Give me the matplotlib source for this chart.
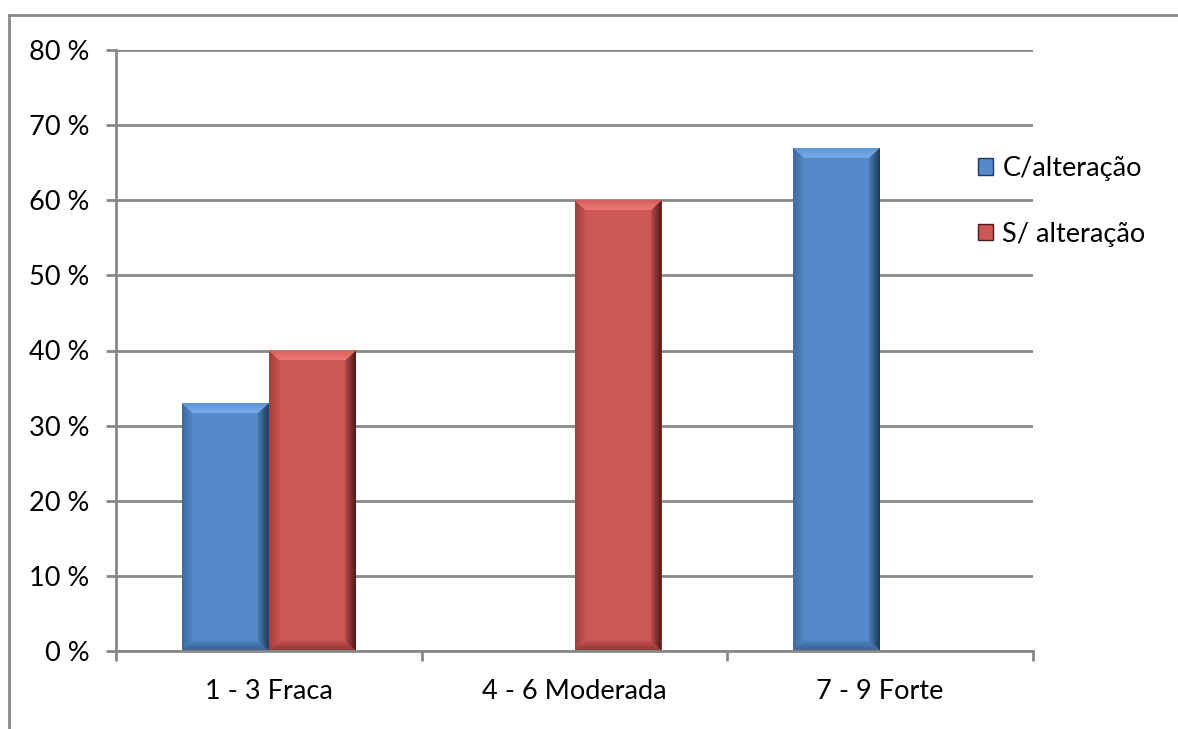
import matplotlib
matplotlib.use("Agg")
import matplotlib.pyplot as plt
from matplotlib.patches import Polygon, Patch
from matplotlib.lines import Line2D
from matplotlib.colors import to_rgb
import numpy as np

categories = ["1 - 3 Fraca", "4 - 6 Moderada", "7 - 9 Forte"]
series_names = ["C/alteração", "S/ alteração"]
c_alteracao = [33, 0, 67]
s_alteracao = [40, 60, 0]
y_ticks = [0, 10, 20, 30, 40, 50, 60, 70, 80]
y_tick_labels = [f"{v} %" for v in y_ticks]

W, H = 1178, 729
DPI = 100
FONT = ["Lato", "DejaVu Sans"]
FS = 19.5
GRID = "#898989"

blue = "#5589CA"
red = "#CD5754"
shades = {
    blue: dict(top_in="#78AEEC", top_out="#5F94D4", left_out="#3F6BA3", left_in="#5286C5",
               right_out="#1F3857", right_in="#4A7AB6", bot_out="#3A5F8E", bot_in="#4D80BF"),
    red: dict(top_in="#F07874", top_out="#D4615D", left_out="#9E403D", left_in="#C95350",
              right_out="#4A1A19", right_in="#B84C49", bot_out="#8A3836", bot_in="#C0514E"),
}

fig = plt.figure(figsize=(W / DPI, H / DPI), dpi=DPI)
fig.patch.set_facecolor("white")

# outer chart border (left and top visible)
fig.add_artist(Line2D([9 / W, 9 / W], [0, 1 - 15 / H], transform=fig.transFigure,
                      color=GRID, lw=2))
fig.add_artist(Line2D([9 / W, 1], [1 - 15 / H, 1 - 15 / H], transform=fig.transFigure,
                      color=GRID, lw=2))

left, right, top, bottom = 116, 1033, 50, 651
ax = fig.add_axes([left / W, 1 - bottom / H, (right - left) / W, (bottom - top) / H])

x = np.arange(len(categories))
bw = 0.285
b1 = ax.bar(x - bw / 2, c_alteracao, bw, color=blue, zorder=3, linewidth=0, label=series_names[0])
b2 = ax.bar(x + bw / 2, s_alteracao, bw, color=red, zorder=3, linewidth=0, label=series_names[1])


def grad_poly(pts, c_a, c_b, horizontal):
    poly = Polygon(pts, closed=True, facecolor="none", edgecolor="none")
    ax.add_patch(poly)
    xs = [p[0] for p in pts]; ys = [p[1] for p in pts]
    a = np.array(to_rgb(c_a)); b = np.array(to_rgb(c_b))
    t = np.linspace(0, 1, 32)
    cols = a[None, :] * (1 - t[:, None]) + b[None, :] * t[:, None]
    img = cols[None, :, :] if horizontal else cols[:, None, :]
    im = ax.imshow(img, extent=(min(xs), max(xs), min(ys), max(ys)), origin="lower",
                   aspect="auto", interpolation="bilinear", zorder=4)
    im.set_clip_path(poly)


# bevel effect, sizes in pixels converted to data units
px_x = 3.0 / (right - left)
px_y = 80.0 / (bottom - top)
bev_x = 11 * px_x
bev_y = 10 * px_y
for bars, col in ((b1, blue), (b2, red)):
    sh = shades[col]
    for r in bars:
        h = r.get_height()
        if h <= 0:
            continue
        x0 = r.get_x(); x1 = x0 + r.get_width(); y0 = 0; y1 = h
        grad_poly([(x0, y0), (x0, y1), (x0 + bev_x, y1 - bev_y), (x0 + bev_x, y0 + bev_y)],
                  sh["left_out"], sh["left_in"], horizontal=True)
        grad_poly([(x1, y0), (x1, y1), (x1 - bev_x, y1 - bev_y), (x1 - bev_x, y0 + bev_y)],
                  sh["right_in"], sh["right_out"], horizontal=True)
        grad_poly([(x0, y0), (x1, y0), (x1 - bev_x, y0 + bev_y), (x0 + bev_x, y0 + bev_y)],
                  sh["bot_out"], sh["bot_in"], horizontal=False)
        grad_poly([(x0, y1), (x1, y1), (x1 - bev_x, y1 - bev_y), (x0 + bev_x, y1 - bev_y)],
                  sh["top_in"], sh["top_out"], horizontal=False)

ax.set_xlim(-0.5, 2.5)
ax.set_ylim(0, 80)

# grid
ax.set_yticks(y_ticks)
ax.set_yticklabels(y_tick_labels, fontfamily=FONT, fontsize=FS)
ax.yaxis.grid(True, color=GRID, lw=2, zorder=1)
ax.set_axisbelow(True)

ax.set_xticks(x)
ax.set_xticklabels(categories, fontfamily=FONT, fontsize=FS)
ax.set_xticks([-0.5, 0.5, 1.5, 2.5], minor=True)
ax.tick_params(axis="x", which="major", length=0, pad=20)
ax.tick_params(axis="x", which="minor", length=7, width=2, color=GRID, direction="out")
ax.tick_params(axis="y", which="major", length=7, width=2, color=GRID, pad=12, direction="out")

for s in ("top", "right"):
    ax.spines[s].set_visible(False)
for s in ("left", "bottom"):
    ax.spines[s].set_color(GRID)
    ax.spines[s].set_linewidth(2)
ax.spines["bottom"].set_zorder(6)

handles = [Patch(facecolor=blue, edgecolor=shades[blue]["right_out"], lw=1),
           Patch(facecolor=red, edgecolor=shades[red]["right_out"], lw=1)]
leg = fig.legend(handles, series_names, loc="upper left",
                 bbox_to_anchor=(978 / W, 1 - 156 / H), frameon=False,
                 prop={"family": FONT, "size": FS}, handlelength=0.55, handleheight=0.55,
                 handletextpad=0.35, labelspacing=1.5, borderpad=0, borderaxespad=0)

fig.savefig("out.png", dpi=DPI, facecolor="white")
